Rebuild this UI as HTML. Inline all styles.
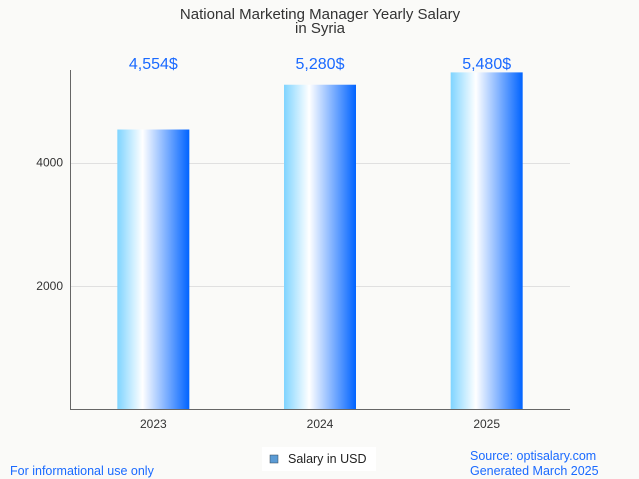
<!DOCTYPE html>
<html><head><meta charset="utf-8"><style>
body{margin:0;background:#fafaf8;font-family:"Liberation Sans",sans-serif;}
svg{display:block}
</style></head><body>
<svg width="639" height="479">
<defs><linearGradient id="g" x1="0" x2="1" y1="0" y2="0">
<stop offset="0" stop-color="#7fd4ff"/><stop offset="0.35" stop-color="#ffffff"/><stop offset="1" stop-color="#0063ff"/></linearGradient></defs>
<text x="320" y="19" text-anchor="middle" font-size="15" fill="#333">National Marketing Manager Yearly Salary</text>
<text x="320" y="33" text-anchor="middle" font-size="15" fill="#333">in Syria</text>
<g id="grid"></g><g id="bars"></g>
<line x1="70.5" y1="70" x2="70.5" y2="409.5" stroke="#666"/>
<line x1="70" y1="409.5" x2="570" y2="409.5" stroke="#666"/>
<rect x="262" y="447" width="114" height="24" fill="#fff"/>
<rect x="270" y="455" width="8" height="8" fill="#5b9bd5" stroke="#345" stroke-width="0.5"/>
<text x="288" y="463" font-size="12.5" fill="#222">Salary in USD</text>
<text x="10" y="475" font-size="12.5" fill="#1a6aff">For informational use only</text>
<text x="470" y="460" font-size="12.5" fill="#1a6aff">Source: optisalary.com</text>
<text x="470" y="475" font-size="12.5" fill="#1a6aff">Generated March 2025</text>
</svg>
<script>
const categories=["2023","2024","2025"];
const values=[4554,5280,5480];
const valueLabels=["4,554$","5,280$","5,480$"];
const yTicks=[2000,4000];
const ns="http://www.w3.org/2000/svg";
const x0=70,plotW=500,y0=409.5,k=0.0617,bw=72;
function y(v){return y0-v*k;}
function xc(i){return x0+plotW/categories.length*(i+0.5);}
const grid=document.getElementById('grid'),bars=document.getElementById('bars');
function mk(tag,attrs,parent){const e=document.createElementNS(ns,tag);for(const a in attrs)e.setAttribute(a,attrs[a]);parent.appendChild(e);return e;}
yTicks.forEach(t=>{
 const l=mk('line',{x1:70,x2:570,y1:Math.round(y(t))+0.5,y2:Math.round(y(t))+0.5,stroke:'#e0e0e0'},grid);
 
 
 const tx=mk('text',{x:63,y:y(t)+4,'text-anchor':'end','font-size':12,fill:'#333'},grid);
 tx.textContent=t;
 
 
});
categories.forEach((c,i)=>{
 const r=mk('rect',{x:xc(i)-bw/2,y:y(values[i])+1,width:bw,height:y0-y(values[i])-1,fill:'url(#g)'},bars);
 
 
 const v=mk('text',{x:xc(i),y:69,'text-anchor':'middle','font-size':16,fill:'#1a6aff'},bars);
 v.textContent=valueLabels[i];
 
 
 const t=mk('text',{x:xc(i),y:428,'text-anchor':'middle','font-size':12,fill:'#333'},bars);
 t.textContent=c;
 
 
});
</script>
</body></html>
